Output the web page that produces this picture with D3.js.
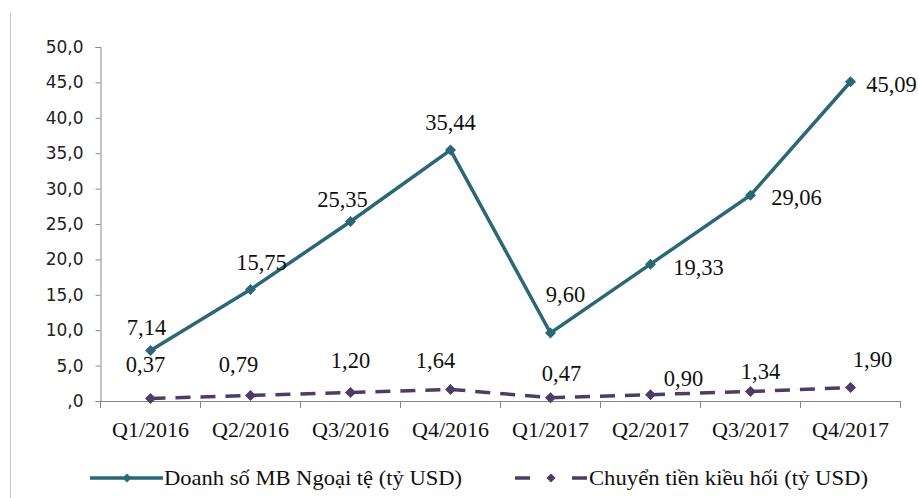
<!DOCTYPE html>
<html><head><meta charset="utf-8">
<script src="https://cdn.jsdelivr.net/npm/d3@7"></script>
<style>body{margin:0;background:#fff}
.serif{font-family:"Liberation Serif","Times New Roman","DejaVu Serif",serif}</style>
</head><body>
<svg id="c" width="918" height="498"></svg>
<script>
const categories = ["Q1/2016","Q2/2016","Q3/2016","Q4/2016","Q1/2017","Q2/2017","Q3/2017","Q4/2017"];
const salesFX = [7.14,15.75,25.35,35.44,9.60,19.33,29.06,45.09];
const remittance = [0.37,0.79,1.20,1.64,0.47,0.90,1.34,1.90];
const yTicks = [0,5,10,15,20,25,30,35,40,45,50];
const seriesNames = ["Doanh số MB Ngoại tệ (tỷ USD)","Chuyển tiền kiều hối (tỷ USD)"];
// label offsets (dx, dy) of label centre relative to its point
const labelPos1 = [[-4,-23],[11,-27],[-8,-22],[0,-28],[15,-38],[48,3],[46,2],[41,3]];
const labelPos2 = [[-5,-34],[-12,-31],[0,-32],[-15,-29],[11,-24],[33,-16],[10,-20],[22,-28]];

const svg = d3.select("#c");
const teal = "#2b6775", purple = "#4f3c66";
const x = d3.scaleBand().domain(categories).range([100.5,900.5]);
const y = d3.scaleLinear().domain([0,50]).range([401,47]);
const fmt = v => d3.format(".2f")(v).replace(".",",");
const fmtY = v => v===0 ? ",0" : d3.format(".1f")(v).replace(".",",");

svg.append("line").attr("x1",10.5).attr("x2",10.5).attr("y1",13).attr("y2",498).attr("stroke","#c4c4c4");

const ya = svg.append("g").attr("transform","translate(100.5,0)")
  .call(d3.axisLeft(y).tickValues(yTicks).tickFormat(fmtY).tickSize(5).tickPadding(12));
ya.select(".domain").attr("stroke","#868686");
ya.selectAll(".tick line").attr("stroke","#868686");
ya.attr("font-family",null);
ya.selectAll("text").style("font-family","'DejaVu Sans', sans-serif").attr("font-size",17).attr("fill","#222");

const xa = svg.append("g").attr("transform","translate(0,401)")
  .call(d3.axisBottom(x).tickSize(0).tickPadding(0));
xa.attr("font-family",null);
xa.select(".domain").attr("stroke","#868686");
xa.selectAll("text").attr("class","serif").attr("font-size",22).attr("fill","#111")
  .attr("dy",null).attr("y",36);
const bounds = categories.map(c=>x(c)).concat([x.range()[1]]);
svg.append("g").selectAll("line").data(bounds).join("line")
  .attr("x1",d=>d).attr("x2",d=>d).attr("y1",401).attr("y2",408).attr("stroke","#868686");

const cx = c => x(c)+x.bandwidth()/2;
const line = d3.line().x((d,i)=>cx(categories[i])).y(d=>y(d));

function diamond(g, px, py, color, r){
  g.append("path").attr("d",`M${px},${py-r}L${px+r},${py}L${px},${py+r}L${px-r},${py}Z`).attr("fill",color);
}

svg.append("path").datum(remittance).attr("d",line).attr("fill","none").attr("stroke",purple)
  .attr("stroke-width",3.5).attr("stroke-dasharray","15,10");
svg.append("path").datum(salesFX).attr("d",line).attr("fill","none").attr("stroke",teal).attr("stroke-width",3.5);

const mk = svg.append("g");
salesFX.forEach((v,i)=>diamond(mk,cx(categories[i]),y(v),teal,5.5));
remittance.forEach((v,i)=>diamond(mk,cx(categories[i]),y(v),purple,5.5));

const lb = svg.append("g").attr("class","serif").attr("font-size",22.5).attr("fill","#111").attr("text-anchor","middle");
salesFX.forEach((v,i)=>lb.append("text").attr("x",cx(categories[i])+labelPos1[i][0]).attr("y",y(v)+labelPos1[i][1]).attr("dy","0.33em").text(fmt(v)));
remittance.forEach((v,i)=>lb.append("text").attr("x",cx(categories[i])+labelPos2[i][0]).attr("y",y(v)+labelPos2[i][1]).attr("dy","0.33em").text(fmt(v)));

// legend
const ly = 478;
const lg = svg.append("g").attr("class","serif").attr("font-size",22).attr("fill","#111");
lg.append("line").attr("x1",90).attr("x2",163).attr("y1",ly).attr("y2",ly).attr("stroke",teal).attr("stroke-width",3.5);
diamond(lg,127,ly,teal,4.5);
lg.append("text").attr("x",164).attr("y",ly).attr("dy","0.33em").attr("textLength",298).attr("lengthAdjust","spacingAndGlyphs").text(seriesNames[0]);
lg.append("line").attr("x1",515).attr("x2",587).attr("y1",ly).attr("y2",ly).attr("stroke",purple).attr("stroke-width",3.5).attr("stroke-dasharray","15,42");
diamond(lg,551,ly,purple,4.5);
lg.append("text").attr("x",589).attr("y",ly).attr("dy","0.33em").attr("textLength",279).attr("lengthAdjust","spacingAndGlyphs").text(seriesNames[1]);
</script>
</body></html>
